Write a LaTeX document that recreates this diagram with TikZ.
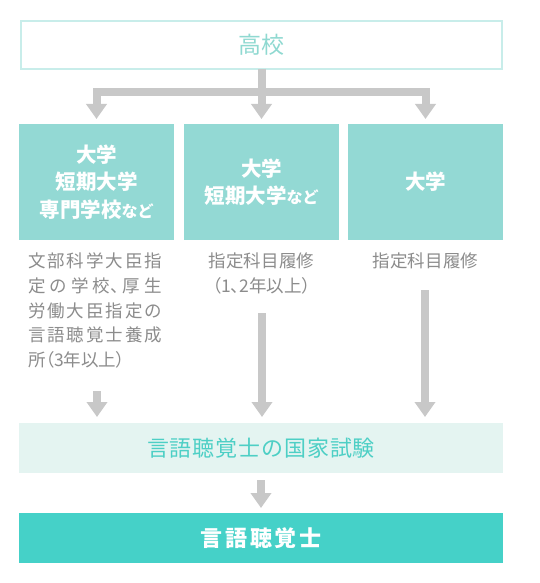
\documentclass[tikz,border=0pt]{standalone}
\usepackage{fontspec}
\usetikzlibrary{arrows.meta}
\newfontfamily\jp{Noto Sans CJK JP}
\newfontfamily\jpsp[LetterSpace=4]{Noto Sans CJK JP}
\newfontfamily\jpgray[LetterSpace=1]{Noto Sans CJK JP}
\newfontfamily\jppalt[RawFeature=+palt]{Noto Sans CJK JP}
\newfontfamily\jpwide[LetterSpace=12]{Noto Sans CJK JP}
\definecolor{topborder}{HTML}{C8EDEA}
\definecolor{toptext}{HTML}{8FD9D1}
\definecolor{catfill}{HTML}{93D9D4}
\definecolor{arrowgray}{HTML}{C8C8C8}
\definecolor{textgray}{HTML}{8C8C8C}
\definecolor{examfill}{HTML}{E4F4F1}
\definecolor{examtext}{HTML}{4DCFC5}
\definecolor{finalfill}{HTML}{45D1C8}
\newcommand\spr[1]{\makebox[134pt][l]{#1}}
\begin{document}
\begin{tikzpicture}[x=1pt,y=-1pt,
  every node/.style={outer sep=0pt},
  arr/.style={draw=arrowgray, line width=8pt, line join=miter, -{Triangle[width=20pt,length=15pt]}},
  stem/.style={draw=arrowgray, line width=8pt},
  topbox/.style={draw=topborder, line width=2pt, fill=white, minimum width=481pt, minimum height=48pt, text=toptext, font=\jpsp\fontsize{23}{26}\selectfont},
  catbox/.style={fill=catfill, minimum width=155pt, minimum height=116pt, text=white, align=center, inner sep=0pt, font=\jp\bfseries\fontsize{20.5}{27.5}\selectfont},
  graytext/.style={text=textgray, inner sep=0pt, font=\jpgray\fontsize{17.5}{24.7}\selectfont},
  exambox/.style={fill=examfill, minimum width=484pt, minimum height=50pt, text=examtext, font=\jpsp\fontsize{22}{25}\selectfont},
  finalbox/.style={fill=finalfill, minimum width=484pt, minimum height=50pt, text=white, font=\jpwide\bfseries\fontsize{22}{26}\selectfont}]
\useasboundingbox (0,0) rectangle (540,583);
\fill[white] (0,0) rectangle (540,583);

\node[topbox] (top) at (261.5,45) {高校};

\node[catbox] (b1) at (96.5,182) {大学\\短期大学\\専門学校{\fontsize{16}{16}\selectfont など}};
\node[catbox] (b2) at (261.5,182) {大学\\短期大学{\fontsize{16}{16}\selectfont など}};
\node[catbox] (b3) at (425.5,182) {大学};

\coordinate (j) at (261.5,92);
\draw[stem] (top.south) -- (j);
\draw[arr, shorten >=5pt] (j) -| (b1.north);
\draw[arr, shorten >=5pt] (j) -| (b3.north);
\draw[arr, shorten >=5pt] (top.south) -- (b2.north);

\node[graytext, anchor=north west, align=left] (t1) at (28,253)
  {\spr{文\hfill 部\hfill 科\hfill 学\hfill 大\hfill 臣\hfill 指}\\
   \spr{定\hfill の\hfill 学\hfill 校{\jppalt 、}\hfill 厚\hfill 生}\\
   \spr{労\hfill 働\hfill 大\hfill 臣\hfill 指\hfill 定\hfill の}\\
   \spr{言\hfill 語\hfill 聴\hfill 覚\hfill 士\hfill 養\hfill 成}\\
   {\jppalt 所（3年以上）}};
\node[graytext, anchor=north, align=center] (t2) at (261.5,253) {指定科目履修\\{\jppalt （1、2年以上）}};
\node[graytext, anchor=north, align=center] (t3) at (425.5,253) {指定科目履修};

\node[exambox] (exam) at (261,448) {言語聴覚士の国家試験};
\node[finalbox] (final) at (261,538) {言語聴覚士};

\coordinate (s1) at (97,391);
\coordinate (s2) at (262,313);
\coordinate (s3) at (425,290);
\draw[arr, shorten >=6pt] (s1) -- (s1 |- exam.north);
\draw[arr, shorten >=6pt] (s2) -- (s2 |- exam.north);
\draw[arr, shorten >=6pt] (s3) -- (s3 |- exam.north);
\draw[arr, shorten <=7pt, shorten >=5pt] (exam.south) -- (final.north);
\end{tikzpicture}
\end{document}
